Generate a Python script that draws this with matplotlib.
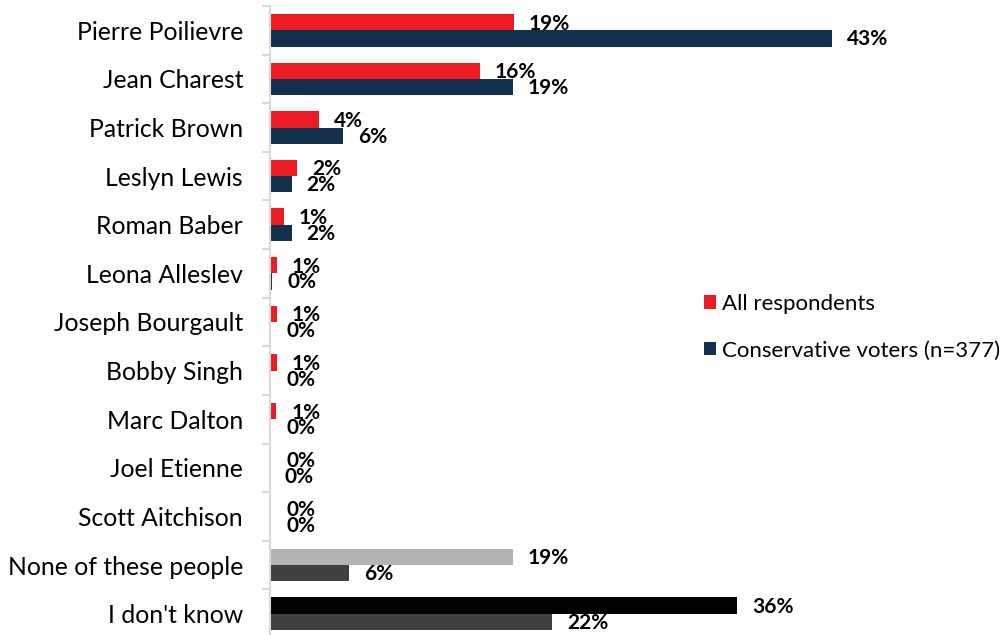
import matplotlib
matplotlib.use("Agg")
import matplotlib.pyplot as plt
from matplotlib.patches import Patch
import numpy as np

categories = ["Pierre Poilievre", "Jean Charest", "Patrick Brown", "Leslyn Lewis",
              "Roman Baber", "Leona Alleslev", "Joseph Bourgault", "Bobby Singh",
              "Marc Dalton", "Joel Etienne", "Scott Aitchison",
              "None of these people", "I don't know"]
all_respondents = [18.7, 16.1, 3.8, 2.1, 1.1, 0.55, 0.55, 0.55, 0.52, 0.15, 0.12, 18.6, 35.8]
conservative_voters = [43.0, 18.6, 5.6, 1.7, 1.7, 0.2, 0.15, 0.15, 0.15, 0.0, 0.12, 6.1, 21.6]
series_names = ["All respondents", "Conservative voters (n=377)"]

RED = "#ED1C24"
NAVY = "#13314D"
all_colors = [RED] * 11 + ["#B3B3B3", "#000000"]
cons_colors = [NAVY] * 11 + ["#404040", "#404040"]

W, H = 1007, 635
fig = plt.figure(figsize=(W / 100, H / 100), dpi=100)
font = "Lato"
plt.rcParams["font.family"] = [font, "DejaVu Sans"]

left_px, right_px = 269.5, 1000
top_px, bottom_px = 6, 638
ax = fig.add_axes([left_px / W, 1 - bottom_px / H, (right_px - left_px) / W, (bottom_px - top_px) / H])
px_per_pct = 13.07
ax.set_xlim(0, (right_px - left_px) / px_per_pct)
n = len(categories)
ax.set_ylim(n - 0.5, -0.5)

y = np.arange(n)
h = 0.335
ax.barh(y - h / 2, all_respondents, height=h, color=all_colors)
ax.barh(y + h / 2, conservative_voters, height=h, color=cons_colors)

for i in range(n):
    for val, yy in ((all_respondents[i], y[i] - h / 2 + 0.03), (conservative_voters[i], y[i] + h / 2 + 0.02)):
        ax.annotate(f"{val:.0f}%", xy=(val, yy), xytext=(15 * 0.72, 0), textcoords="offset points",
                    ha="left", va="center", fontsize=15, fontweight="bold", color="black")

for s in ["top", "right", "bottom"]:
    ax.spines[s].set_visible(False)
ax.spines["left"].set_color("#D9D9D9")
ax.spines["left"].set_linewidth(1.5)
ax.set_xticks([])
ax.set_yticks(np.arange(-0.5, n, 1.0))
ax.set_yticklabels([])
ax.set_yticks(y, minor=True)
ax.set_yticklabels(categories, minor=True, fontsize=17.8, color="black")
ax.tick_params(axis="y", which="major", length=6, color="#D9D9D9", width=1.5)
ax.tick_params(axis="y", which="minor", length=0, pad=19)

handles = [Patch(facecolor=RED), Patch(facecolor=NAVY)]
leg = fig.legend(handles, series_names, loc="upper left",
                 bbox_to_anchor=(695 / W, 1 - 285 / H), frameon=False,
                 fontsize=16, handlelength=0.55, handleheight=0.55, handletextpad=0.25,
                 labelspacing=1.2, borderaxespad=0)

fig.savefig("out.png", dpi=100)
